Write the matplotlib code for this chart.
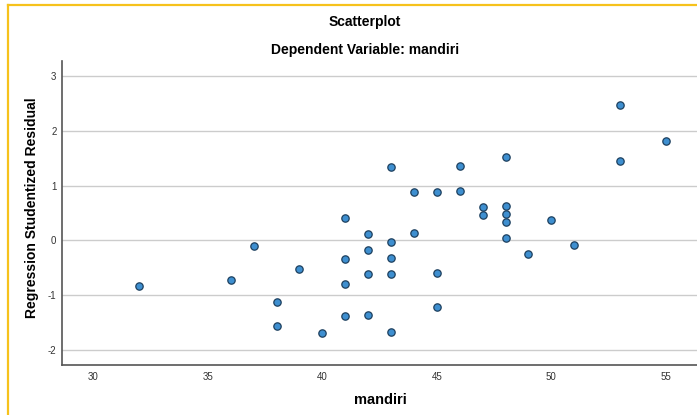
import numpy as np
import matplotlib.pyplot as plt
from matplotlib.lines import Line2D

# data
mandiri = [32, 36, 37, 38, 38, 39, 40,
           41, 41, 41, 41,
           42, 42, 42, 42,
           43, 43, 43, 43, 43,
           44, 44, 45, 45, 45, 46, 46, 47, 47,
           48, 48, 48, 48, 48,
           49, 50, 51, 53, 53, 55]
residual = [-0.83, -0.73, -0.10, -1.12, -1.57, -0.52, -1.69,
            0.41, -0.34, -0.79, -1.38,
            0.11, -0.18, -0.62, -1.37,
            1.35, -0.02, -0.32, -0.61, -1.68,
            0.89, 0.14, 0.89, -0.59, -1.21, 1.36, 0.90, 0.62, 0.47,
            1.52, 0.63, 0.48, 0.34, 0.04,
            -0.25, 0.37, -0.08, 2.47, 1.46, 1.81]
xticks = [30, 35, 40, 45, 50, 55]
yticks = [-2, -1, 0, 1, 2, 3]

plt.rcParams['font.family'] = ['Liberation Sans', 'DejaVu Sans']
plt.rcParams['axes.unicode_minus'] = False

W, H = 697, 415
fig = plt.figure(figsize=(W/100, H/100), dpi=100)
ax = fig.add_axes([62/W, 1-365/H, 1-62/W, (365-61)/H])

ax.scatter(mandiri, residual, s=28, c='#3e8fd0', edgecolors='#1d3f5e',
           linewidths=0.9, zorder=3)

ax.set_xlim(28.63, 56.36)
ax.set_ylim(-2.276, 3.28)
ax.set_xticks(xticks)
ax.set_yticks(yticks)
ax.grid(axis='y', color='#cccccc', linewidth=1.0)
ax.set_axisbelow(True)
ax.tick_params(length=0, labelsize=7, labelcolor='#333333')
ax.tick_params(axis='x', pad=5)
ax.tick_params(axis='y', pad=4)

for side in ['top', 'right']:
    ax.spines[side].set_visible(False)
for side in ['left', 'bottom']:
    ax.spines[side].set_color('#555555')
    ax.spines[side].set_linewidth(1.2)

ax.set_xlabel('mandiri', fontsize=10.5, fontweight='bold')
ax.set_ylabel('Regression Studentized Residual', fontsize=10,
              fontweight='bold')
# place labels where the reference has them (pixel positions -> axes coords)
ax.xaxis.set_label_coords((380-62)/(W-62), -(400-365)/(365-61))
ax.yaxis.set_label_coords(-(62-32)/(W-62), (365-208)/(365-61))
ax.xaxis.label.set_va('center')
ax.yaxis.label.set_va('center')

fig.text(365/W, 1-22/H, 'Scatterplot', ha='center', va='center',
         fontsize=10, fontweight='bold')
fig.text(365/W, 1-50/H, 'Dependent Variable: mandiri', ha='center',
         va='center', fontsize=10, fontweight='bold')

# yellow output frame
fig.add_artist(Line2D([8/W, 8/W], [0, 1-5.5/H], color='#f6c21c', lw=1.6))
fig.add_artist(Line2D([8/W, 1], [1-5.5/H, 1-5.5/H], color='#f6c21c', lw=1.6))

fig.savefig('out.png', dpi=100)
